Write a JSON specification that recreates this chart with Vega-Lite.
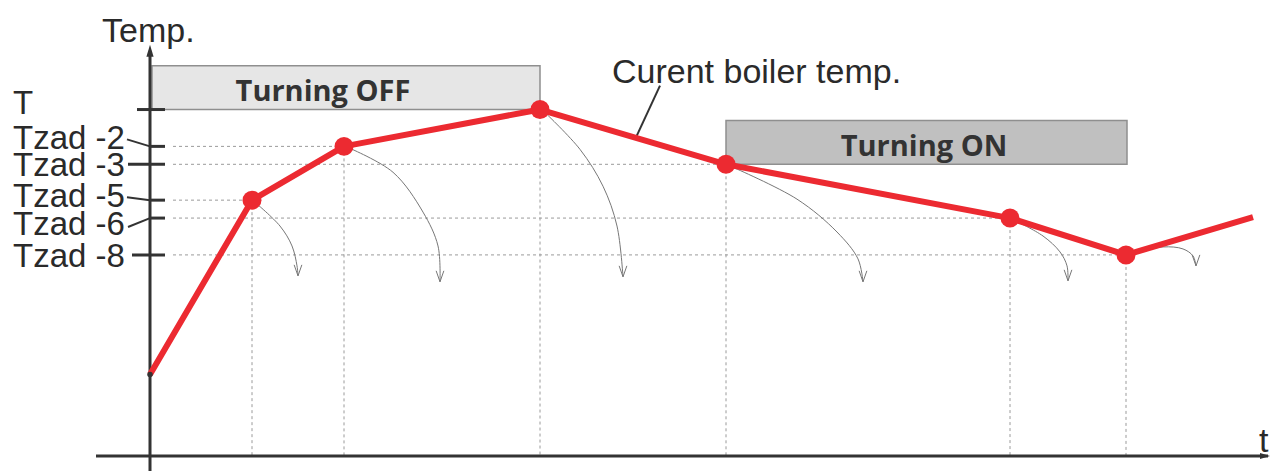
{
  "$schema": "https://vega.github.io/schema/vega-lite/v6.json",
  "width": 1271,
  "height": 473,
  "padding": 0,
  "autosize": {"type": "fit", "contains": "padding"},
  "config": {"view": {"stroke": null}, "background": "#ffffff"},
  "datasets": {
    "boiler": [
      {"t": 0, "temp": 97}, {"t": 102, "temp": 272}, {"t": 194, "temp": 326}, {"t": 390, "temp": 363},
      {"t": 576, "temp": 308}, {"t": 860, "temp": 254}, {"t": 976, "temp": 217}, {"t": 1103, "temp": 255}
    ],
    "markers": [
      {"t": 102, "temp": 272}, {"t": 194, "temp": 326}, {"t": 390, "temp": 363},
      {"t": 576, "temp": 308}, {"t": 860, "temp": 254}, {"t": 976, "temp": 217}
    ],
    "start": [{"t": 0, "temp": 97}],
    "boxes": [
      {"kind": "off", "t1": 2, "t2": 390, "top": 407, "bottom": 363},
      {"kind": "on", "t1": 576, "t2": 977, "top": 352, "bottom": 308}
    ],
    "boxLabels": [
      {"label": "Turning OFF", "t": 173, "temp": 372},
      {"label": "Turning ON", "t": 774, "temp": 316}
    ],
    "guides": [
      {"t": 23, "t2": 194, "temp": 326, "temp2": 326},
      {"t": 23, "t2": 576, "temp": 308, "temp2": 308},
      {"t": 23, "t2": 102, "temp": 272, "temp2": 272},
      {"t": 23, "t2": 860, "temp": 254, "temp2": 254},
      {"t": 23, "t2": 976, "temp": 217, "temp2": 217},
      {"t": 102, "t2": 102, "temp": 272, "temp2": 15},
      {"t": 194, "t2": 194, "temp": 326, "temp2": 15},
      {"t": 390, "t2": 390, "temp": 363, "temp2": 15},
      {"t": 576, "t2": 576, "temp": 308, "temp2": 15},
      {"t": 860, "t2": 860, "temp": 254, "temp2": 15},
      {"t": 976, "t2": 976, "temp": 217, "temp2": 15}
    ],
    "axes": [
      {"t": -54, "t2": 1118, "temp": 15, "temp2": 15},
      {"t": 0, "t2": 0, "temp": 0, "temp2": 422},
      {"t": -13, "t2": 15, "temp": 363, "temp2": 363},
      {"t": 0, "t2": 15, "temp": 326, "temp2": 326},
      {"t": -22, "t2": 15, "temp": 308, "temp2": 308},
      {"t": 0, "t2": 15, "temp": 272, "temp2": 272},
      {"t": 0, "t2": 15, "temp": 254, "temp2": 254},
      {"t": -18, "t2": 15, "temp": 217, "temp2": 217}
    ],
    "leaders": [
      {"t": -23, "t2": 0, "temp": 333, "temp2": 326},
      {"t": -23, "t2": 0, "temp": 275, "temp2": 272},
      {"t": -22, "t2": 0, "temp": 245, "temp2": 254},
      {"t": 510, "t2": 486, "temp": 387, "temp2": 335}
    ],
    "levelLabels": [
      {"label": "T", "t": -137, "temp": 359},
      {"label": "Tzad -2", "t": -137, "temp": 323},
      {"label": "Tzad -3", "t": -137, "temp": 296},
      {"label": "Tzad -5", "t": -137, "temp": 265},
      {"label": "Tzad -6", "t": -137, "temp": 237},
      {"label": "Tzad -8", "t": -137, "temp": 205}
    ],
    "titles": [
      {"label": "Temp.", "t": -48, "temp": 431},
      {"label": "t", "t": 1109, "temp": 19}
    ],
    "caption": [
      {"label": "Curent boiler temp.", "t": 462, "temp": 390}
    ],
    "curves": [
      {"id": 1, "o": 1, "t": 106, "temp": 269}, {"id": 1, "o": 2, "t": 130, "temp": 246}, {"id": 1, "o": 3, "t": 142, "temp": 226}, {"id": 1, "o": 4, "t": 147, "temp": 206}, {"id": 1, "o": 5, "t": 148, "temp": 196},
      {"id": 2, "o": 1, "t": 200, "temp": 324}, {"id": 2, "o": 2, "t": 243, "temp": 300}, {"id": 2, "o": 3, "t": 273, "temp": 260}, {"id": 2, "o": 4, "t": 288, "temp": 226}, {"id": 2, "o": 5, "t": 290, "temp": 190},
      {"id": 3, "o": 1, "t": 396, "temp": 359}, {"id": 3, "o": 2, "t": 430, "temp": 323}, {"id": 3, "o": 3, "t": 453, "temp": 286}, {"id": 3, "o": 4, "t": 467, "temp": 246}, {"id": 3, "o": 5, "t": 473, "temp": 195},
      {"id": 4, "o": 1, "t": 583, "temp": 305}, {"id": 4, "o": 2, "t": 647, "temp": 273}, {"id": 4, "o": 3, "t": 687, "temp": 240}, {"id": 4, "o": 4, "t": 708, "temp": 213}, {"id": 4, "o": 5, "t": 713, "temp": 190},
      {"id": 5, "o": 1, "t": 866, "temp": 251}, {"id": 5, "o": 2, "t": 893, "temp": 236}, {"id": 5, "o": 3, "t": 910, "temp": 220}, {"id": 5, "o": 4, "t": 917, "temp": 206}, {"id": 5, "o": 5, "t": 918, "temp": 191},
      {"id": 6, "o": 1, "t": 980, "temp": 218}, {"id": 6, "o": 2, "t": 1013, "temp": 225}, {"id": 6, "o": 3, "t": 1033, "temp": 223}, {"id": 6, "o": 4, "t": 1043, "temp": 216}, {"id": 6, "o": 5, "t": 1046, "temp": 206}
    ],
    "arrowheads": [
      {"t": 148, "temp": 201.5}, {"t": 290, "temp": 195.5}, {"t": 473, "temp": 200.5},
      {"t": 713, "temp": 195.5}, {"t": 918, "temp": 196.5}, {"t": 1046, "temp": 211.5}
    ],
    "yArrow": [{"t": 0, "temp": 422}],
    "xArrow": [{"t": 1115, "temp": 15}]
  },
  "encoding": {
    "x": {"field": "t", "type": "quantitative", "scale": {"domain": [-150, 1121], "nice": false, "zero": false}, "axis": null},
    "y": {"field": "temp", "type": "quantitative", "scale": {"domain": [0, 473], "nice": false, "zero": false}, "axis": null}
  },
  "layer": [
    {
      "data": {"name": "boxes"},
      "mark": {"type": "rect", "stroke": "#8f8f8f", "strokeWidth": 1.5},
      "encoding": {
        "x": {"field": "t1", "type": "quantitative"},
        "x2": {"field": "t2"},
        "y": {"field": "top", "type": "quantitative"},
        "y2": {"field": "bottom"},
        "fill": {"field": "kind", "type": "nominal", "scale": {"domain": ["off", "on"], "range": ["#e6e6e6", "#c0c0c0"]}, "legend": null}
      }
    },
    {
      "data": {"name": "boxLabels"},
      "mark": {"type": "text", "font": "Open Sans", "fontWeight": "bold", "fontSize": 29, "color": "#333333", "align": "center", "baseline": "alphabetic"},
      "encoding": {"text": {"field": "label"}}
    },
    {
      "data": {"name": "guides"},
      "mark": {"type": "rule", "color": "#9a9a9a", "strokeWidth": 1, "strokeDash": [3, 3]},
      "encoding": {"x2": {"field": "t2"}, "y2": {"field": "temp2"}}
    },
    {
      "data": {"name": "axes"},
      "mark": {"type": "rule", "color": "#333333", "strokeWidth": 3},
      "encoding": {"x2": {"field": "t2"}, "y2": {"field": "temp2"}}
    },
    {
      "data": {"name": "leaders"},
      "mark": {"type": "rule", "color": "#333333", "strokeWidth": 2},
      "encoding": {"x2": {"field": "t2"}, "y2": {"field": "temp2"}}
    },
    {
      "data": {"name": "yArrow"},
      "mark": {"type": "point", "shape": "M0,-1L0.6,1L-0.6,1Z", "size": 144, "filled": true, "color": "#333333", "opacity": 1}
    },
    {
      "data": {"name": "xArrow"},
      "mark": {"type": "point", "shape": "M1,0L-1,-0.6L-1,0.6Z", "size": 100, "filled": true, "color": "#333333", "opacity": 1}
    },
    {
      "data": {"name": "curves"},
      "mark": {"type": "line", "color": "#777777", "strokeWidth": 1, "interpolate": "catmull-rom"},
      "encoding": {"detail": {"field": "id"}, "order": {"field": "o"}}
    },
    {
      "data": {"name": "arrowheads"},
      "mark": {"type": "point", "shape": "M-0.7,-1L0,1L0.7,-1", "size": 121, "filled": false, "color": "#777777", "strokeWidth": 1, "opacity": 1}
    },
    {
      "data": {"name": "boiler"},
      "mark": {"type": "line", "color": "#ec2a31", "strokeWidth": 6, "strokeJoin": "round"}
    },
    {
      "data": {"name": "markers"},
      "mark": {"type": "circle", "color": "#ec2a31", "size": 360, "opacity": 1}
    },
    {
      "data": {"name": "start"},
      "mark": {"type": "circle", "color": "#333333", "size": 30, "opacity": 1}
    },
    {
      "data": {"name": "levelLabels"},
      "mark": {"type": "text", "font": "Liberation Sans", "fontSize": 33, "color": "#2a2a2a", "align": "left", "baseline": "alphabetic"},
      "encoding": {"text": {"field": "label"}}
    },
    {
      "data": {"name": "titles"},
      "mark": {"type": "text", "font": "Liberation Sans", "fontSize": 34, "color": "#2a2a2a", "align": "left", "baseline": "alphabetic"},
      "encoding": {"text": {"field": "label"}}
    },
    {
      "data": {"name": "caption"},
      "mark": {"type": "text", "font": "Liberation Sans", "fontSize": 34, "color": "#2a2a2a", "align": "left", "baseline": "alphabetic"},
      "encoding": {"text": {"field": "label"}}
    }
  ]
}
